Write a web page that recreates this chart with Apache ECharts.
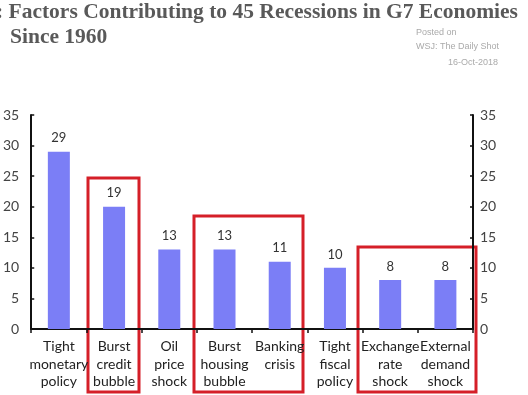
<!DOCTYPE html>
<html>
<head>
<meta charset="utf-8">
<script src="https://cdn.jsdelivr.net/npm/echarts@6/dist/echarts.min.js"></script>
<style>html,body{margin:0;padding:0;background:#fff}#c{width:528px;height:395px}</style>
</head>
<body>
<div id="c"></div>
<script>
var categories = ['Tight\nmonetary\npolicy', 'Burst\ncredit\nbubble', 'Oil\nprice\nshock', 'Burst\nhousing\nbubble', 'Banking\ncrisis', 'Tight\nfiscal\npolicy', 'Exchange\nrate\nshock', 'External\ndemand\nshock'];
var barValues = [29, 20, 13, 13, 11, 10, 8, 8];
var barLabels = ['29', '19', '13', '13', '11', '10', '8', '8'];
var yTicks = [0, 5, 10, 15, 20, 25, 30, 35];
var titleLine1 = ': Factors Contributing to 45 Recessions in G7 Economies';
var titleLine2 = 'Since 1960';
var sourceLines = ['Posted on', 'WSJ: The Daily Shot', '16-Oct-2018'];

var chart = echarts.init(document.getElementById('c'), null, {renderer: 'canvas'});
var axisFont = 'Lato';
function yAxis(pos) {
  return {
    type: 'value', position: pos, min: yTicks[0], max: yTicks[yTicks.length - 1], interval: 5,
    splitLine: {show: false},
    axisLine: {show: true, lineStyle: {color: '#111', width: 2}},
    axisTick: {show: true, inside: true, length: 3, lineStyle: {color: '#111', width: 1.5}},
    axisLabel: {color: '#444', fontFamily: axisFont, fontSize: 14, margin: pos === 'left' ? 12 : 7}
  };
}
chart.setOption({
  animation: false,
  grid: {left: 27, right: 55, top: 115, bottom: 66, containLabel: false},
  xAxis: {
    type: 'category', data: categories,
    axisLine: {lineStyle: {color: '#111', width: 2}},
    axisTick: {show: true, length: 4, lineStyle: {color: '#111', width: 1.5}},
    axisLabel: {color: '#222', fontFamily: axisFont, fontSize: 14, lineHeight: 17.5, margin: 9, interval: 0}
  },
  yAxis: [yAxis('left'), yAxis('right')],
  series: [{
    type: 'bar', data: barValues, barWidth: 22, yAxisIndex: 0,
    itemStyle: {color: '#7b7ef6'},
    label: {show: true, position: 'top', distance: 7, color: '#333', fontFamily: axisFont, fontSize: 13,
      formatter: function (p) { return barLabels[p.dataIndex]; }}
  }],
  graphic: [
    {type: 'text', left: -4, top: 1, style: {text: titleLine1, font: 'bold 21.5px "Liberation Serif"', fill: '#595959'}},
    {type: 'text', left: 10, top: 26, style: {text: titleLine2, font: 'bold 21.5px "Liberation Serif"', fill: '#595959'}},
    {type: 'text', left: 416, top: 28, style: {text: sourceLines[0], font: '9px "Liberation Sans"', fill: '#aaa'}},
    {type: 'text', left: 416, top: 42, style: {text: sourceLines[1], font: '9px "Liberation Sans"', fill: '#aaa'}},
    {type: 'text', left: 448, top: 58, style: {text: sourceLines[2], font: '9px "Liberation Sans"', fill: '#aaa'}},
    {type: 'rect', shape: {x: 88, y: 178, width: 51, height: 214}, style: {fill: 'none', stroke: '#d51f28', lineWidth: 3}},
    {type: 'rect', shape: {x: 194, y: 216, width: 109, height: 176}, style: {fill: 'none', stroke: '#d51f28', lineWidth: 3}},
    {type: 'rect', shape: {x: 358, y: 247, width: 118, height: 145}, style: {fill: 'none', stroke: '#d51f28', lineWidth: 3}}
  ]
});
</script>
</body>
</html>
